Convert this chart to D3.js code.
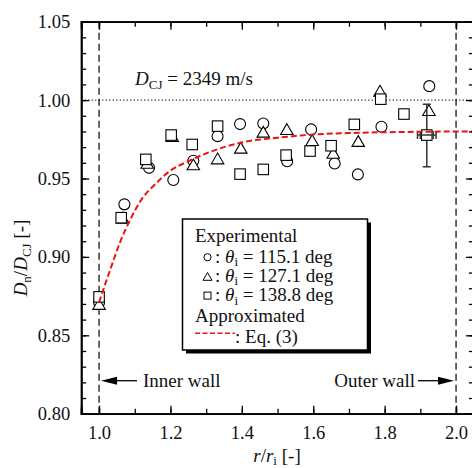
<!DOCTYPE html>
<html>
<head>
<meta charset="utf-8">
<script src="https://cdn.jsdelivr.net/npm/d3@7"></script>
<style>
  body { margin: 0; background: #fff; }
  svg { display: block; font-family: "Liberation Serif", "Times New Roman", serif; }
</style>
</head>
<body>
<svg id="chart" width="472" height="468"></svg>
<script>
let circleR = [1.000, 1.071, 1.140, 1.208, 1.264, 1.332, 1.395, 1.460, 1.527, 1.594, 1.660, 1.725, 1.791, 1.925];
let circleV = [0.871, 0.9335, 0.9568, 0.949, 0.9613, 0.977, 0.9847, 0.9851, 0.961, 0.9813, 0.9596, 0.9526, 0.983, 1.0089];

let triR = [1.000, 1.066, 1.135, 1.205, 1.264, 1.332, 1.397, 1.460, 1.526, 1.597, 1.656, 1.726, 1.787, 1.924];
let triV = [0.870, 0.925, 0.960, 0.977, 0.959, 0.9628, 0.9696, 0.9798, 0.9815, 0.9745, 0.9664, 0.9739, 1.006, 0.9936];

let squareR = [1.000, 1.062, 1.131, 1.202, 1.261, 1.332, 1.395, 1.460, 1.524, 1.591, 1.650, 1.715, 1.789, 1.854, 1.918];
let squareV = [0.8745, 0.925, 0.9622, 0.9777, 0.9717, 0.9834, 0.9528, 0.9558, 0.9649, 0.9675, 0.9709, 0.9845, 1.0006, 0.9911, 0.9777];

// error bar on the last square
let errR = [1.892, 1.944];
let errV = [0.9575, 0.9973];

// Eq. (3) curve
let eqR = [1.00, 1.03, 1.06, 1.09, 1.12, 1.16, 1.20, 1.25, 1.30, 1.35, 1.40, 1.50, 1.60, 1.70, 1.80, 1.90, 2.06];
let eqV = [0.871, 0.891, 0.910, 0.925, 0.937, 0.947, 0.955, 0.961, 0.966, 0.970, 0.973, 0.976, 0.978, 0.979, 0.9795, 0.9798, 0.980];

let xTicks = [1.0, 1.2, 1.4, 1.6, 1.8, 2.0];
let yTicks = [0.80, 0.85, 0.90, 0.95, 1.00, 1.05];
let legendLabels = ["115.1", "127.1", "138.8"];

let svg = d3.select("#chart");

let pL = 81.2, pR = 473.9, pT = 21.7, pB = 413.7;
let x = d3.scaleLinear().domain([0.95, 2.05]).range([pL, pR]);
let y = d3.scaleLinear().domain([0.80, 1.05]).range([pB, pT]);

svg.append("clipPath").attr("id", "clip")
    .append("rect").attr("x", pL).attr("y", pT)
    .attr("width", pR - pL).attr("height", pB - pT);

let plot = svg.append("g").attr("clip-path", "url(#clip)");

// reference lines
plot.append("line")
    .attr("x1", pL).attr("x2", pR)
    .attr("y1", y(1.0)).attr("y2", y(1.0))
    .attr("stroke", "#222").attr("stroke-width", 1.2)
    .attr("stroke-dasharray", "1.2,2.3");

[1.0, 2.0].forEach(function(v) {
    plot.append("line")
        .attr("x1", x(v)).attr("x2", x(v))
        .attr("y1", pT).attr("y2", pB)
        .attr("stroke", "#000").attr("stroke-width", 1.2)
        .attr("stroke-dasharray", "7,4");
});

// markers: circles first, then triangles, then squares on top
let circles = circleR.map((r, i) => ({r: r, v: circleV[i]}));
let tris = triR.map((r, i) => ({r: r, v: triV[i]}));
let squares = squareR.map((r, i) => ({r: r, v: squareV[i]}));

function triPath(cx, cy, w, h) {
    return "M" + cx + "," + (cy - h / 2) + "L" + (cx + w / 2) + "," + (cy + h / 2) +
        "L" + (cx - w / 2) + "," + (cy + h / 2) + "Z";
}

plot.selectAll("circle.pt").data(circles).enter()
    .append("circle")
    .attr("class", "pt")
    .attr("cx", d => x(d.r)).attr("cy", d => y(d.v)).attr("r", 5.5)
    .attr("fill", "#fff").attr("stroke", "#000").attr("stroke-width", 1.1);

plot.selectAll("path.tri").data(tris).enter()
    .append("path")
    .attr("class", "tri")
    .attr("d", d => triPath(x(d.r), y(d.v), 12.5, 10.8))
    .attr("fill", "#fff").attr("stroke", "#000").attr("stroke-width", 1.1);

// error bar (drawn under the square)
let eb = plot.append("g").attr("stroke", "#333").attr("stroke-width", 1.5);
let sq = squares[squares.length - 1];
eb.append("line").attr("x1", x(sq.r)).attr("x2", x(sq.r)).attr("y1", y(errV[0])).attr("y2", y(errV[1]));
eb.append("line").attr("x1", x(sq.r) - 4).attr("x2", x(sq.r) + 4).attr("y1", y(errV[0])).attr("y2", y(errV[0]));
eb.append("line").attr("x1", x(sq.r) - 4).attr("x2", x(sq.r) + 4).attr("y1", y(errV[1])).attr("y2", y(errV[1]));

plot.selectAll("rect.sq").data(squares).enter()
    .append("rect")
    .attr("class", "sq")
    .attr("x", d => x(d.r) - 5.25).attr("y", d => y(d.v) - 5.25)
    .attr("width", 10.5).attr("height", 10.5)
    .attr("fill", "#fff").attr("stroke", "#000").attr("stroke-width", 1.1);

let ebh = plot.append("g").attr("stroke", "#333").attr("stroke-width", 1.5);
ebh.append("line").attr("x1", x(errR[0])).attr("x2", x(errR[1])).attr("y1", y(sq.v)).attr("y2", y(sq.v));
[errR[0], errR[1], errR[0] + 0.008, errR[1] - 0.008].forEach(function(v) {
    ebh.append("line").attr("x1", x(v)).attr("x2", x(v)).attr("y1", y(sq.v) - 4).attr("y2", y(sq.v) + 4);
});

// Eq. (3) line
let eqLine = d3.line()
    .x((d, i) => x(eqR[i]))
    .y(d => y(d))
    .curve(d3.curveMonotoneX);

plot.append("path")
    .attr("d", eqLine(eqV))
    .attr("fill", "none")
    .attr("stroke", "#ee1111").attr("stroke-width", 2)
    .attr("stroke-dasharray", "6,3");

// axes (ticks point inward on every side)
let axisG = svg.append("g");
let xMinor = d3.range(1.0, 2.051, 0.1);
let yMinor = d3.range(0.80, 1.0501, 0.01);

axisG.append("g").attr("transform", "translate(0," + pB + ")")
    .call(d3.axisBottom(x).tickValues(xMinor).tickSize(-5).tickFormat(""));
axisG.append("g").attr("transform", "translate(0," + pB + ")")
    .call(d3.axisBottom(x).tickValues(xTicks).tickSize(-8).tickPadding(12).tickFormat(d3.format(".1f")));
axisG.append("g").attr("transform", "translate(0," + pT + ")")
    .call(d3.axisTop(x).tickValues(xMinor).tickSize(-5).tickFormat(""));
axisG.append("g").attr("transform", "translate(0," + pT + ")")
    .call(d3.axisTop(x).tickValues(xTicks).tickSize(-8).tickFormat(""));

axisG.append("g").attr("transform", "translate(" + pL + ",0)")
    .call(d3.axisLeft(y).tickValues(yMinor).tickSize(-5).tickFormat(""));
axisG.append("g").attr("transform", "translate(" + pL + ",0)")
    .call(d3.axisLeft(y).tickValues(yTicks).tickSize(-8).tickPadding(11).tickFormat(d3.format(".2f")));
axisG.append("g").attr("transform", "translate(" + pR + ",0)")
    .call(d3.axisRight(y).tickValues(yMinor).tickSize(-5).tickFormat(""));
axisG.append("g").attr("transform", "translate(" + pR + ",0)")
    .call(d3.axisRight(y).tickValues(yTicks).tickSize(-8).tickFormat(""));

axisG.selectAll(".domain").attr("stroke", "#000").attr("stroke-width", 1.8);
axisG.selectAll(".tick line").attr("stroke", "#000").attr("stroke-width", 1.3);
axisG.selectAll(".tick text")
    .attr("font-family", "Liberation Serif, serif")
    .attr("font-size", 18.5).attr("fill", "#111");

// annotation D_CJ
let dcj = svg.append("text").attr("x", 135).attr("y", 85)
    .attr("font-size", 19).attr("fill", "#111");
dcj.append("tspan").attr("font-style", "italic").text("D");
dcj.append("tspan").attr("font-size", 13).attr("dy", 4).text("CJ");
dcj.append("tspan").attr("dy", -4).text(" = 2349 m/s");

// inner / outer wall arrows
function arrow(x1, x2, yy) {
    let dir = x2 > x1 ? 1 : -1;
    svg.append("line").attr("x1", x1).attr("x2", x2 - dir * 14).attr("y1", yy).attr("y2", yy)
        .attr("stroke", "#000").attr("stroke-width", 1.3);
    svg.append("path")
        .attr("d", "M" + x2 + "," + yy + "L" + (x2 - dir * 16) + "," + (yy - 4) +
            "L" + (x2 - dir * 16) + "," + (yy + 4) + "Z")
        .attr("fill", "#000");
}
arrow(137, x(1.0) + 2, 380.7);
arrow(418, x(2.0) - 2, 380.7);

svg.append("text").attr("x", 143).attr("y", 387).attr("font-size", 19).attr("fill", "#111").text("Inner wall");
svg.append("text").attr("x", 415).attr("y", 387).attr("text-anchor", "end")
    .attr("font-size", 19).attr("fill", "#111").text("Outer wall");

// axis titles
let xt = svg.append("text").attr("x", 277).attr("y", 461.5).attr("text-anchor", "middle")
    .attr("font-size", 19).attr("fill", "#111");
xt.append("tspan").attr("font-style", "italic").text("r");
xt.append("tspan").text("/");
xt.append("tspan").attr("font-style", "italic").text("r");
xt.append("tspan").attr("font-size", 13).attr("dy", 3.5).text("i");
xt.append("tspan").attr("dy", -3.5).text(" [-]");

let yt = svg.append("text")
    .attr("transform", "translate(27,258) rotate(-90)")
    .attr("text-anchor", "middle").attr("font-size", 19).attr("fill", "#111");
yt.append("tspan").attr("font-style", "italic").text("D");
yt.append("tspan").attr("font-size", 13).attr("dy", 4).text("n");
yt.append("tspan").attr("dy", -4).text("/");
yt.append("tspan").attr("font-style", "italic").text("D");
yt.append("tspan").attr("font-size", 13).attr("dy", 4).text("CJ");
yt.append("tspan").attr("dy", -4).text(" [-]");

// legend box with shadow
let lg = svg.append("g");
lg.append("rect").attr("x", 186).attr("y", 222.5).attr("width", 185).attr("height", 131).attr("fill", "#000");
lg.append("rect").attr("x", 182.5).attr("y", 219).attr("width", 185).attr("height", 131)
    .attr("fill", "#fff").attr("stroke", "#000").attr("stroke-width", 1.5);

lg.append("text").attr("x", 195).attr("y", 241.5).attr("font-size", 19).attr("fill", "#111").text("Experimental");

legendLabels.forEach(function(lab, i) {
    let yy = 262.7 + i * 19.2;
    let my = yy - 5.5;
    if (i === 0) {
        lg.append("circle").attr("cx", 207.5).attr("cy", my).attr("r", 3.6)
            .attr("fill", "none").attr("stroke", "#000").attr("stroke-width", 1);
    } else if (i === 1) {
        lg.append("path").attr("d", triPath(207.5, my, 9, 7.8))
            .attr("fill", "none").attr("stroke", "#000").attr("stroke-width", 1);
    } else {
        lg.append("rect").attr("x", 204).attr("y", my - 3.5).attr("width", 7).attr("height", 7)
            .attr("fill", "none").attr("stroke", "#000").attr("stroke-width", 1);
    }
    let t = lg.append("text").attr("x", 215).attr("y", yy).attr("font-size", 19).attr("fill", "#111");
    t.append("tspan").text(": ");
    t.append("tspan").attr("font-style", "italic").text("θ");
    t.append("tspan").attr("font-size", 13).attr("dy", 3.5).text("i");
    t.append("tspan").attr("dy", -3.5).text(" = " + lab + " deg");
});

lg.append("text").attr("x", 195).attr("y", 321.5).attr("font-size", 19).attr("fill", "#111").text("Approximated");
lg.append("line").attr("x1", 195).attr("x2", 235).attr("y1", 333.3).attr("y2", 333.3)
    .attr("stroke", "#ee1111").attr("stroke-width", 1.6).attr("stroke-dasharray", "5,2.5");
lg.append("text").attr("x", 235).attr("y", 342.8).attr("font-size", 19).attr("fill", "#111").text(": Eq. (3)");
</script>
</body>
</html>
